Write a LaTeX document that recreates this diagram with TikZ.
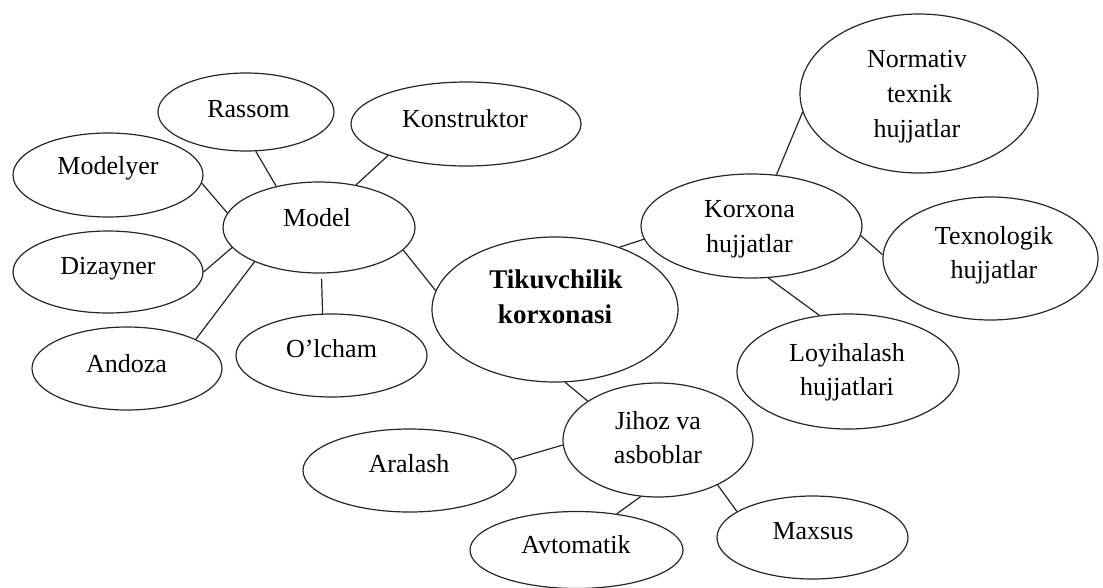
\documentclass[tikz,border=0pt]{standalone}
\usepackage{fontspec}
\setmainfont{Liberation Serif}
\usetikzlibrary{shapes.geometric}
\tikzset{
  ell/.style={draw=black!85, ellipse, inner sep=0pt, line width=1.2pt},
  txt/.style={anchor=base, inner sep=0pt, font=\fontsize{26}{31}\selectfont},
  btxt/.style={anchor=base, inner sep=0pt, font=\fontsize{27}{32}\selectfont\bfseries},
  link/.style={draw=black!85, line width=1.2pt}
}
\begin{document}
\begin{tikzpicture}[x=1pt,y=-1pt]
\useasboundingbox (0,0) rectangle (1103,587);
% ellipses
\node[ell, minimum width=176pt, minimum height=78pt]  (rassom)      at (246,112)    {};
\node[ell, minimum width=230pt, minimum height=84pt]  (konstruktor) at (466,124)    {};
\node[ell, minimum width=190pt, minimum height=84pt]  (modelyer)    at (108,175)    {};
\node[ell, minimum width=192pt, minimum height=91pt]  (model)       at (319,227.5)  {};
\node[ell, minimum width=190pt, minimum height=82pt]  (dizayner)    at (108,272)    {};
\node[ell, minimum width=190pt, minimum height=83pt]  (andoza)      at (127,368.5)  {};
\node[ell, minimum width=191pt, minimum height=83pt]  (olcham)      at (331.5,355.5){};
\node[ell, minimum width=246pt, minimum height=145pt] (tikuv)       at (555,309.5)  {};
\node[ell, minimum width=221pt, minimum height=104pt] (korxona)     at (751.5,226)  {};
\node[ell, minimum width=238pt, minimum height=159pt] (normativ)    at (919,93.5)   {};
\node[ell, minimum width=215pt, minimum height=123pt] (texnologik)  at (990.5,258.5){};
\node[ell, minimum width=222pt, minimum height=115pt] (loyihalash)  at (848,371.5)  {};
\node[ell, minimum width=190pt, minimum height=114pt] (jihoz)       at (658,440)    {};
\node[ell, minimum width=213pt, minimum height=83pt]  (aralash)     at (409.5,470.5){};
\node[ell, minimum width=213pt, minimum height=77pt]  (avtomatik)   at (576.5,550)  {};
\node[ell, minimum width=191pt, minimum height=83pt]  (maxsus)      at (812.5,537.5){};
% texts
\node[txt] (rassom-t)      at (248.5,117) {Rassom};
\node[txt] (konstruktor-t) at (465,127)   {Konstruktor};
\node[txt] (modelyer-t)    at (108,174)   {Modelyer};
\node[txt] (model-t)       at (317,226.7) {Model};
\node[txt] (dizayner-t)    at (108,274)   {Dizayner};
\node[txt] (andoza-t)      at (126.5,372) {Andoza};
\node[txt] (olcham-t)      at (331.5,357) {O’lcham};
\node[btxt] (tikuv-t1)     at (556,288)   {Tikuvchilik};
\node[btxt] (tikuv-t2)     at (555,323)   {korxonasi};
\node[txt] (normativ-t1)   at (917,67)    {Normativ};
\node[txt] (normativ-t2)   at (919.5,102) {texnik};
\node[txt] (normativ-t3)   at (917,137)   {hujjatlar};
\node[txt] (korxona-t1)    at (749.5,217) {Korxona};
\node[txt] (korxona-t2)    at (749.5,252) {hujjatlar};
\node[txt] (texnologik-t1) at (994,244)   {Texnologik};
\node[txt] (texnologik-t2) at (994,278)   {hujjatlar};
\node[txt] (loyihalash-t1) at (847,361)   {Loyihalash};
\node[txt] (loyihalash-t2) at (847,395)   {hujjatlari};
\node[txt] (jihoz-t1)      at (658,429)   {Jihoz va};
\node[txt] (jihoz-t2)      at (658,463)   {asboblar};
\node[txt] (aralash-t)     at (409,472)   {Aralash};
\node[txt] (avtomatik-t)   at (576,553)   {Avtomatik};
\node[txt] (maxsus-t)      at (813,539)   {Maxsus};
% connectors
\draw[link] (rassom.-76)       -- (model.136);
\draw[link] (konstruktor.202)  -- (model.49);
\draw[link] (modelyer.-5)      -- (model.171);
\draw[link] (dizayner.0)       -- (model.-167);
\draw[link] (andoza.23)        -- (model.-152);
\draw[link, shorten <=5pt] (model.-87) -- (olcham.102);
\draw[link] (model.-15.5)      -- (tikuv.171);
\draw[link] (tikuv.44)         -- (korxona.187);
\draw[link] (korxona.64)       -- (normativ.189);
\draw[link] (korxona.-5.7)     -- (texnologik.178);
\draw[link] (korxona.-72.4)    -- (loyihalash.117);
\draw[link] (tikuv.-82.3)      -- (jihoz.151);
\draw[link] (jihoz.183)        -- (aralash.6.2);
\draw[link] (jihoz.-107.5)     -- (avtomatik.42);
\draw[link] (jihoz.-37.5)      -- (maxsus.161);
\end{tikzpicture}
\end{document}
